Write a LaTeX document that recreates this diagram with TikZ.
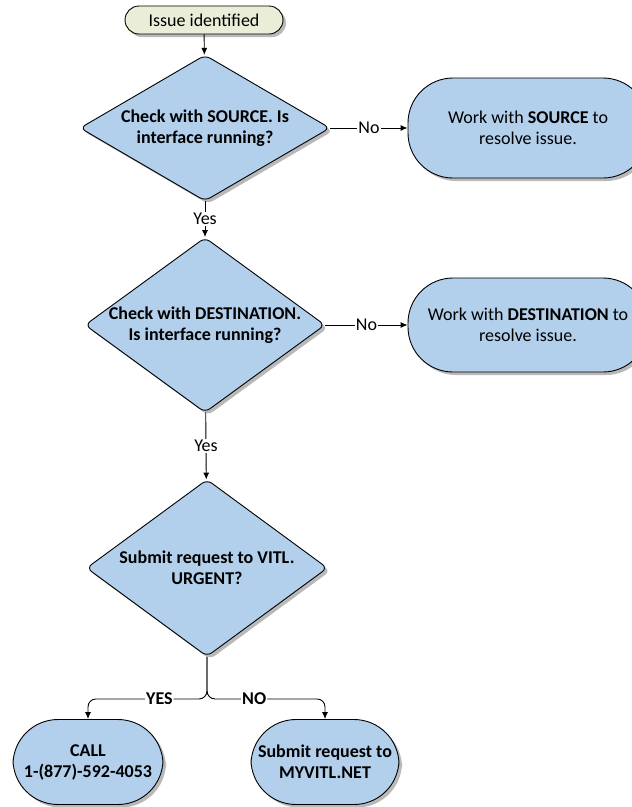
\documentclass[tikz,border=0pt]{standalone}
\usepackage{fontspec}
\setmainfont{Carlito}
\usetikzlibrary{shapes.geometric,shadows,arrows.meta}
\definecolor{boxblue}{RGB}{178,207,236}
\definecolor{startfill}{RGB}{234,238,216}

\begin{document}
\begin{tikzpicture}[x=1pt,y=-1pt,>={Latex[length=7pt,width=6pt]},line width=0.9pt,
  every node/.style={font=\fontsize{18}{21}\selectfont},
  boxshadow/.style={drop shadow={shadow xshift=3pt,shadow yshift=-3pt,fill=black!50,opacity=.55}},
  dia/.style={diamond,draw,fill=boxblue,rounded corners=6pt,inner sep=0pt,boxshadow},
  dtext/.style={align=center,font=\fontsize{18}{21}\selectfont\bfseries},
  term/.style={rectangle,draw,fill=boxblue,rounded corners=45pt,align=center,boxshadow},
  lab/.style={fill=white,inner sep=1pt}]
\useasboundingbox (0,0) rectangle (632,807);
\node[rectangle,draw,fill=startfill,rounded corners=14pt,minimum width=158,minimum height=28,inner sep=0pt,boxshadow] (start) at (204,20) {Issue identified};
\node[dia,minimum width=250,minimum height=146,label={[dtext]center:{Check with SOURCE. Is\\interface running?}}] (d1) at (205,128) {};
\node[term,minimum width=240,minimum height=100] (t1) at (528,128) {Work with \textbf{SOURCE} to\\resolve issue.};
\node[dia,minimum width=240,minimum height=175,label={[dtext]center:{Check with DESTINATION.\\Is interface running?}}] (d2) at (205,325) {};
\node[term,minimum width=240,minimum height=94] (t2) at (528,325) {Work with \textbf{DESTINATION} to\\resolve issue.};
\node[dia,minimum width=241,minimum height=177,label={[dtext]center:{Submit request to VITL.\\URGENT?}}] (d3) at (207,568) {};
\node[term,minimum width=150,minimum height=85,font=\fontsize{18}{21}\selectfont\bfseries] (t3) at (88,762) {CALL\\1-(877)-592-4053};
\node[term,minimum width=148,minimum height=85,font=\fontsize{18}{21}\selectfont\bfseries] (t4) at (325,762) {Submit request to\\MYVITL.NET};
\draw[->] (start) -- (d1);
\draw[->] (d1) -- node[lab]{No} (t1);
\draw[->] (d1) -- node[lab]{Yes} (d2);
\draw[->] (d2) -- node[lab]{No} (t2);
\draw[->] (d2) -- node[lab]{Yes} (d3);
\draw[->,rounded corners=8pt] (d3.south) -- ++(0,42) -| node[lab,pos=.2,font=\fontsize{18}{21}\selectfont\bfseries]{YES} (t3.north);
\draw[->,rounded corners=8pt] (d3.south) -- ++(0,42) -| node[lab,pos=.2,font=\fontsize{18}{21}\selectfont\bfseries]{NO} (t4.north);
\end{tikzpicture}
\end{document}
